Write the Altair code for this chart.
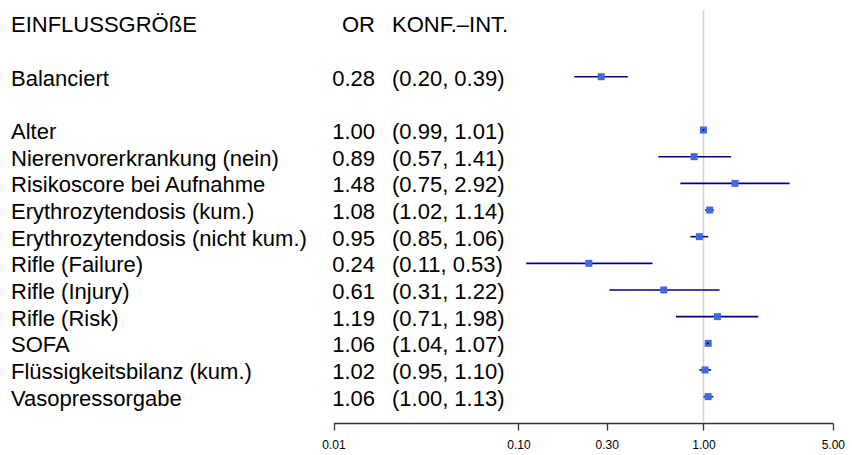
import altair as alt
import pandas as pd

# ---- data ----
labels = ["Balanciert", "Alter", "Nierenvorerkrankung (nein)", "Risikoscore bei Aufnahme",
          "Erythrozytendosis (kum.)", "Erythrozytendosis (nicht kum.)", "Rifle (Failure)",
          "Rifle (Injury)", "Rifle (Risk)", "SOFA", "Flüssigkeitsbilanz (kum.)", "Vasopressorgabe"]
or_values = [0.28, 1.00, 0.89, 1.48, 1.08, 0.95, 0.24, 0.61, 1.19, 1.06, 1.02, 1.06]
lower = [0.20, 0.99, 0.57, 0.75, 1.02, 0.85, 0.11, 0.31, 0.71, 1.04, 0.95, 1.00]
upper = [0.39, 1.01, 1.41, 2.92, 1.14, 1.06, 0.53, 1.22, 1.98, 1.07, 1.10, 1.13]
rows = [2, 4, 5, 6, 7, 8, 9, 10, 11, 12, 13, 14]
headers = ["EINFLUSSGRÖßE", "OR", "KONF.–INT."]
tick_values = [0.01, 0.10, 0.30, 1.00, 5.00]

df = pd.DataFrame({"row": rows, "label": labels, "or": or_values, "lo": lower, "hi": upper})
df["or_text"] = df["or"].map(lambda v: f"{v:.2f}")
df["ci_text"] = [f"({a:.2f}, {b:.2f})" for a, b in zip(lower, upper)]
hdr = pd.DataFrame({"row": [0], "h1": [headers[0]], "h2": [headers[1]], "h3": [headers[2]]})

FONT = "Liberation Sans"
FS = 22

x_scale = alt.Scale(type="log", domain=[0.01, 5], range=[333.5, 832.8], nice=False)
y_scale = alt.Scale(domain=[0, 15], range=[23.4, 423.3], nice=False, zero=False)
ax = alt.Axis(values=tick_values, format=".2f", labelFontSize=12, labelFont=FONT,
              labelColor="black", tickSize=7, labelFlush=False,
              tickColor="#333333", domainColor="#333333", domainWidth=1.3, tickWidth=1.3,
              labelPadding=9, title=None)
y_enc = alt.Y("row:Q", scale=y_scale, axis=None)

ref = alt.Chart(pd.DataFrame({"x": [1.0]})).mark_rule(color="#d3d3d3", strokeWidth=1.5).encode(
    x=alt.X("x:Q", scale=x_scale, axis=ax), y=alt.value(10), y2=alt.value(423))

base = alt.Chart(df)
ci = base.mark_rule(color="#00008B", strokeWidth=1.6).encode(
    x=alt.X("lo:Q", scale=x_scale), x2="hi:Q", y=y_enc)
boxes = base.mark_square(size=49, color="#4169E1", opacity=1).encode(
    x=alt.X("or:Q", scale=x_scale), y=y_enc)
ci_top = base.transform_filter("datum.hi / datum.lo < 1.09").mark_rule(
    color="#00008B", strokeWidth=1.6).encode(
    x=alt.X("lo:Q", scale=x_scale), x2="hi:Q", y=y_enc)

txt = dict(baseline="middle", fontSize=FS, font=FONT, color="black", dy=2)
lab = base.mark_text(align="left", **txt).encode(x=alt.value(11), y=y_enc, text="label:N")
ort = base.mark_text(align="right", **txt).encode(x=alt.value(375), y=y_enc, text="or_text:N")
cit = base.mark_text(align="left", **txt).encode(x=alt.value(392), y=y_enc, text="ci_text:N")

hb = alt.Chart(hdr)
h1 = hb.mark_text(align="left", **txt).encode(x=alt.value(11), y=y_enc, text="h1:N")
h2 = hb.mark_text(align="right", **txt).encode(x=alt.value(375), y=y_enc, text="h2:N")
h3 = hb.mark_text(align="left", **txt).encode(x=alt.value(392), y=y_enc, text="h3:N")

chart = alt.layer(ref, ci, boxes, ci_top, lab, ort, cit, h1, h2, h3).properties(
    width=852, height=423,
    padding={"left": 0, "right": 0, "top": 0, "bottom": 32},
    autosize=alt.AutoSizeParams(type="none"),
).configure_view(stroke=None).configure_axis(grid=False)

chart.save("out.html", embed_options={"renderer": "svg", "actions": False})
